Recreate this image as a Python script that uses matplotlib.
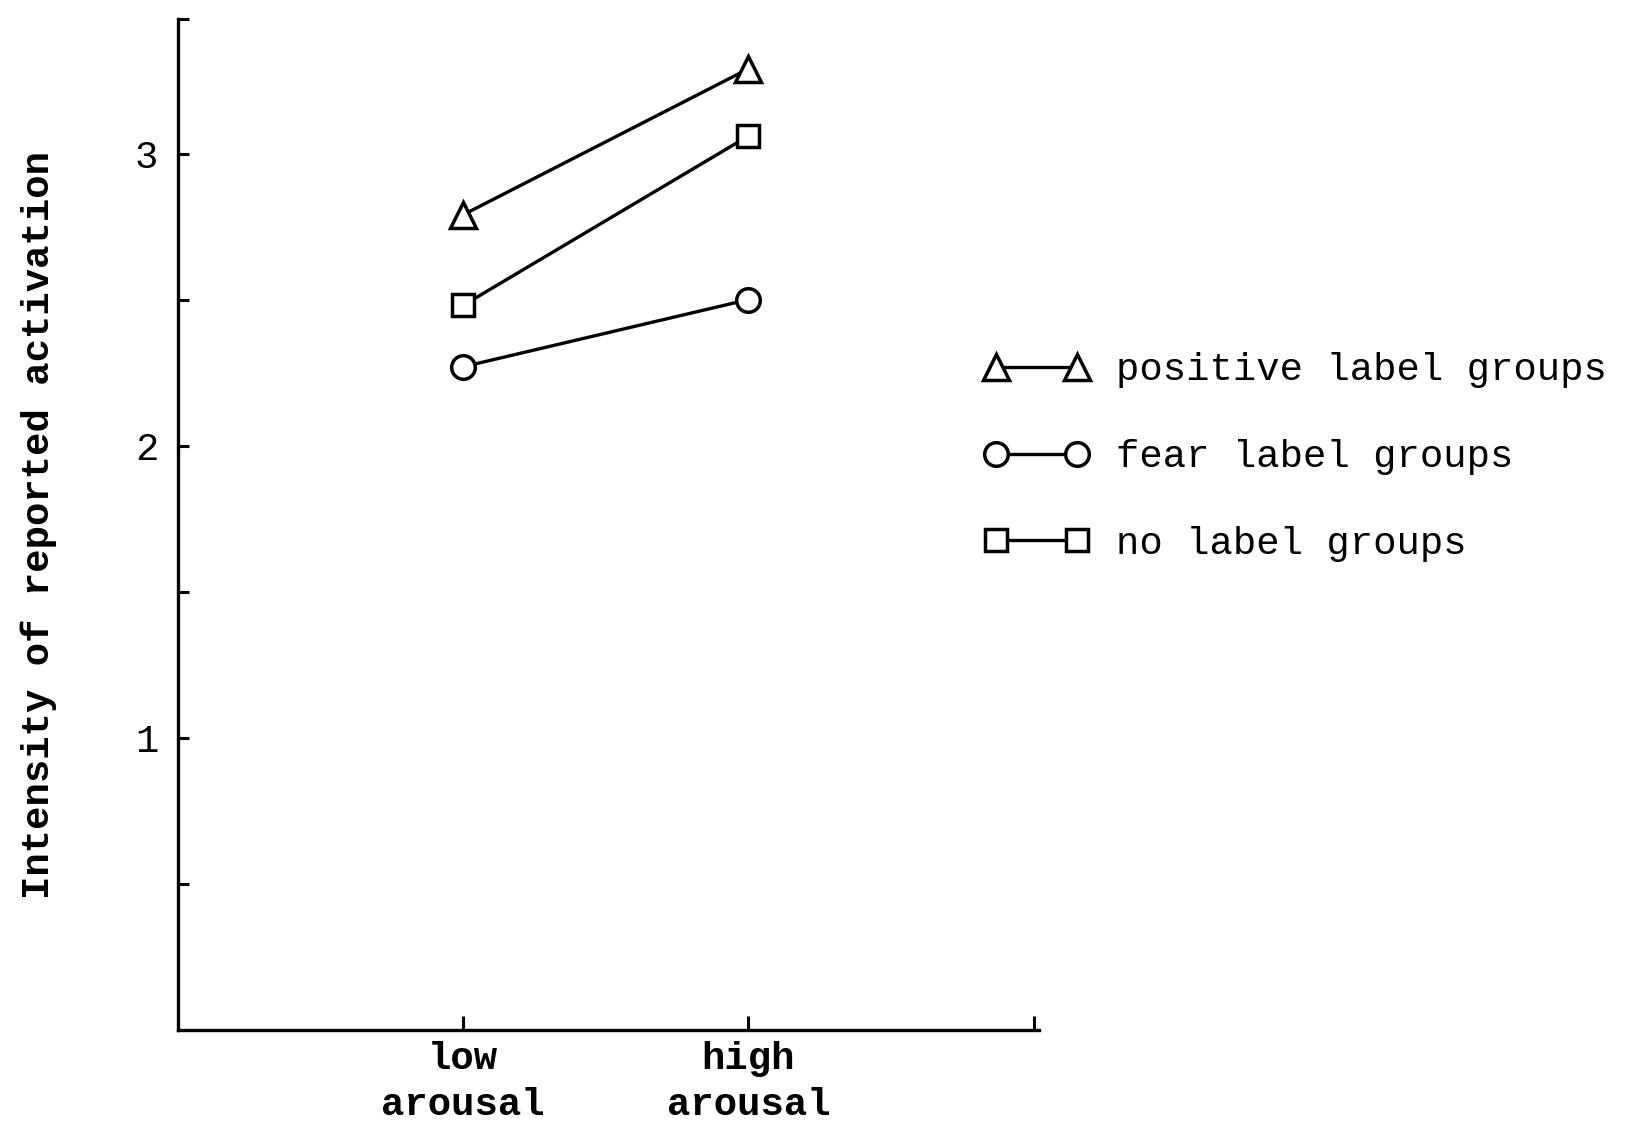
import matplotlib
matplotlib.use("Agg")
import matplotlib.pyplot as plt

# ---- data ----
conditions = ["low\narousal", "high\narousal"]
x_pos = [1, 2]
positive_label = [2.79, 3.29]
fear_label = [2.27, 2.50]
no_label = [2.48, 3.06]
series_names = ["positive label groups", "fear label groups", "no label groups"]
y_ticks = [0.5, 1, 1.5, 2, 2.5, 3]
y_tick_labels = ["", "1", "", "2", "", "3"]
y_top = 3.46

FONT = "Liberation Mono"
FS = 28

fig = plt.figure(figsize=(16.37, 11.26), dpi=100)
ax = fig.add_axes([0.1085, 0.0853, 0.5265, 0.8977])

common = dict(color="black", lw=2.4, markerfacecolor="white",
              markeredgecolor="black", markeredgewidth=2.5)
l1, = ax.plot(x_pos, positive_label, marker="^", markersize=19, label=series_names[0], **common)
l2, = ax.plot(x_pos, fear_label, marker="o", markersize=17, label=series_names[1], **common)
l3, = ax.plot(x_pos, no_label, marker="s", markersize=16, label=series_names[2], **common)

ax.set_xlim(0, 3.02)
ax.set_ylim(0, y_top)

for s in ["top", "right"]:
    ax.spines[s].set_visible(False)
for s in ["left", "bottom"]:
    ax.spines[s].set_linewidth(2.4)

ax.set_yticks(y_ticks)
ax.set_yticklabels(y_tick_labels, fontfamily=FONT, fontsize=FS)
ax.set_yticks([y_top], minor=True)
ax.set_xticks([1, 2, 3])
ax.set_xticklabels(conditions + [""], fontfamily=FONT, fontsize=FS,
                   fontweight="bold", linespacing=1.35)
ax.tick_params(axis="y", which="both", direction="in", length=8, width=2.2, pad=14)
ax.tick_params(axis="x", direction="in", length=10, width=2.2, pad=8)

ax.set_ylabel("Intensity of reported activation", fontfamily=FONT, fontsize=FS,
              fontweight="bold", labelpad=56)

leg = ax.legend(handles=[l1, l2, l3], loc="center left",
                bbox_to_anchor=(0.592, 0.594), bbox_transform=fig.transFigure,
                frameon=False, numpoints=2, handlelength=2.67, handletextpad=0.7,
                labelspacing=1.31, borderaxespad=0,
                prop={"family": FONT, "size": FS})

fig.savefig("out.png", dpi=100, facecolor="white")
